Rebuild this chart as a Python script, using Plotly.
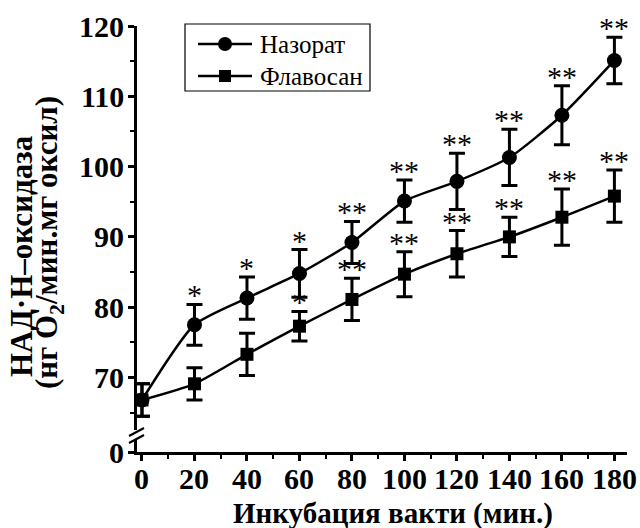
import plotly.graph_objects as go

# ---- data ----
time_min = [0, 20, 40, 60, 80, 100, 120, 140, 160, 180]
control_vals = [66.8, 77.5, 81.3, 84.8, 89.2, 95.1, 97.9, 101.3, 107.3, 115.1]
control_err = [2.3, 2.9, 3.0, 3.4, 3.0, 3.0, 4.0, 4.0, 4.2, 3.3]
control_sig = ["", "*", "*", "*", "**", "**", "**", "**", "**", "**"]
flav_vals = [66.8, 69.1, 73.3, 77.3, 81.1, 84.7, 87.6, 90.0, 92.8, 95.8]
flav_err = [2.3, 2.3, 3.0, 2.1, 3.0, 3.2, 3.3, 2.8, 4.0, 3.7]
flav_sig = ["", "", "", "*", "**", "**", "**", "**", "**", "**"]
series_names = ["Назорат", "Флавосан"]
x_ticks = [0, 20, 40, 60, 80, 100, 120, 140, 160, 180]
y_ticks = [70, 80, 90, 100, 110, 120]
x_title = "Инкубация вакти (мин.)"
y_title_lines = ["НАД·Н–оксидаза", "(нг O<sub>2</sub>/мин.мг оксил)"]

# ---- layout constants ----
W, H = 640, 528
ML, MR, MT, MB = 137, 13, 26, 76
PW, PH = W - ML - MR, H - MT - MB
Y_BREAK_BOTTOM = 59.4   # axis value where the broken-axis "0" label sits
FONT = "Tinos"
FONT_REG = "Times New Roman"

def px(x):
    return (x - ML) / PW

def py(y):
    return (H - MB - y) / PH

fig = go.Figure()
fig.add_trace(go.Scatter(
    x=time_min, y=control_vals, mode="lines+markers", name=series_names[0],
    line=dict(color="black", width=2.5, shape="spline", smoothing=0.6),
    marker=dict(symbol="circle", size=15, color="black"),
    error_y=dict(type="data", array=control_err, color="black", thickness=3, width=8),
    showlegend=False, cliponaxis=False))
fig.add_trace(go.Scatter(
    x=time_min, y=flav_vals, mode="lines+markers", name=series_names[1],
    line=dict(color="black", width=2.5, shape="spline", smoothing=0.6),
    marker=dict(symbol="square", size=13, color="black"),
    error_y=dict(type="data", array=flav_err, color="black", thickness=3, width=8),
    showlegend=False, cliponaxis=False))

annotations = []
for xs, vs, es, ss in [(time_min, control_vals, control_err, control_sig),
                       (time_min, flav_vals, flav_err, flav_sig)]:
    for x, v, e, s in zip(xs, vs, es, ss):
        if s:
            annotations.append(dict(x=x, y=v + e, text=s, showarrow=False,
                                    xref="x", yref="y", yanchor="bottom", yshift=-9,
                                    font=dict(family=FONT_REG, size=30, color="black")))

# tick labels as text
for t in x_ticks:
    annotations.append(dict(x=t, y=py(478), xref="x", yref="paper", text="<b>%d</b>" % t,
                            showarrow=False, xanchor="center", yanchor="middle",
                            font=dict(family=FONT, size=30, color="black")))
for v, lab in zip([Y_BREAK_BOTTOM] + y_ticks, ["0"] + [str(t) for t in y_ticks]):
    annotations.append(dict(x=px(126), y=v, xref="paper", yref="y", text="<b>%s</b>" % lab,
                            showarrow=False, xanchor="right", yanchor="middle",
                            font=dict(family=FONT, size=30, color="black")))

annotations.append(dict(x=px(393), y=py(513), xref="paper", yref="paper", text="<b>" + x_title + "</b>",
                        showarrow=False, xanchor="center", yanchor="middle",
                        font=dict(family=FONT, size=29, color="black")))
for cx, cy, line in zip([21, 49], [256, 243], y_title_lines):
    annotations.append(dict(x=px(cx), y=py(cy), xref="paper", yref="paper", text="<b>" + line + "</b>",
                            showarrow=False, textangle=-90, xanchor="center", yanchor="middle",
                            font=dict(family=FONT, size=31, color="black")))

# legend (manual)
for i, name in enumerate(series_names):
    ry = 44 + i * 32
    annotations.append(dict(x=px(258), y=py(ry), xref="paper", yref="paper", text=name,
                            showarrow=False, xanchor="left", yanchor="middle",
                            font=dict(family=FONT_REG, size=25, color="black")))

shapes = [dict(type="rect", xref="paper", yref="paper", x0=px(185), x1=px(370),
               y0=py(91), y1=py(24), line=dict(color="black", width=1.2),
               fillcolor="white", layer="above")]
for i, sym in enumerate(["circle", "square"]):
    ry = 44 + i * 32
    shapes.append(dict(type="line", xref="paper", yref="paper", x0=px(198), x1=px(252),
                       y0=py(ry), y1=py(ry), line=dict(color="black", width=2.5)))
    r = 7 if sym == "circle" else 6
    shapes.append(dict(type="circle" if sym == "circle" else "rect", xref="paper", yref="paper",
                       x0=px(225 - r), x1=px(225 + r), y0=py(ry + r), y1=py(ry - r),
                       fillcolor="black", line=dict(color="black", width=0)))

# axis break marks
shapes.append(dict(type="rect", xref="paper", yref="paper", x0=px(133), x1=px(141),
                   y0=py(439), y1=py(430), fillcolor="white", line=dict(width=0), layer="above"))
for oy in [0, 7]:
    shapes.append(dict(type="line", xref="paper", yref="paper", x0=px(129), x1=px(144),
                       y0=py(436 + oy), y1=py(428 + oy),
                       line=dict(color="black", width=2), layer="above"))

fig.update_layout(
    width=W, height=H, margin=dict(l=ML, r=MR, t=MT, b=MB),
    plot_bgcolor="white", paper_bgcolor="white",
    font=dict(family=FONT),
    annotations=annotations, shapes=shapes, showlegend=False,
    xaxis=dict(range=[-1.9, 184.8], tickvals=x_ticks, showticklabels=False,
               showgrid=False, zeroline=False,
               showline=True, linecolor="black", linewidth=2.5,
               ticks="outside", ticklen=6, tickwidth=2.5, tickcolor="black",
               minor=dict(tickmode="array", tickvals=[10, 30, 50, 70, 90, 110, 130, 150, 170],
                          ticks="outside", ticklen=4, tickwidth=2, tickcolor="black")),
    yaxis=dict(range=[Y_BREAK_BOTTOM, 120],
               tickvals=[Y_BREAK_BOTTOM] + y_ticks, showticklabels=False,
               showgrid=False, zeroline=False,
               showline=True, linecolor="black", linewidth=2.5,
               ticks="outside", ticklen=6, tickwidth=2.5, tickcolor="black",
               minor=dict(tickmode="array", tickvals=[65, 75, 85, 95, 105, 115],
                          ticks="outside", ticklen=4, tickwidth=2, tickcolor="black")),
)

fig.write_html("out.html")
